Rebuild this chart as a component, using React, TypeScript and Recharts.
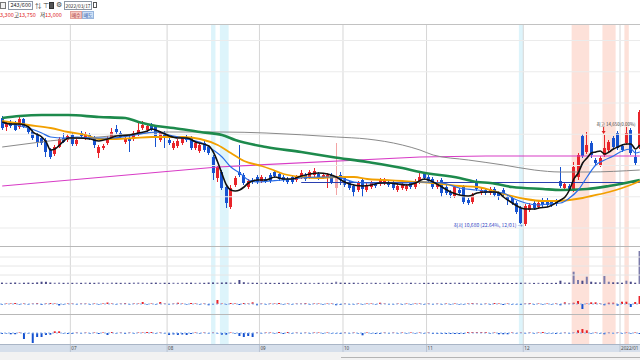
import React from "react";
import {
  ComposedChart, Bar, Line, XAxis, YAxis, ReferenceArea, ReferenceLine, ReferenceDot, Cell,
} from "recharts";

// trading days shown on the chart, per month
const TRADING_DAYS: [string, number[]][] = [
  ["2021/06", [9, 10, 11, 14, 15, 16, 17, 18, 21, 22, 23, 24, 25, 28, 29, 30]],
  ["2021/07", [1, 2, 5, 6, 7, 8, 9, 12, 13, 14, 15, 16, 19, 20, 21, 22, 23, 26, 27, 28, 29, 30]],
  ["2021/08", [2, 3, 4, 5, 6, 9, 10, 11, 12, 13, 17, 18, 19, 20, 23, 24, 25, 26, 27, 30, 31]],
  ["2021/09", [1, 2, 3, 6, 7, 8, 9, 10, 13, 14, 15, 16, 17, 23, 24, 27, 28, 29, 30]],
  ["2021/10", [1, 5, 6, 7, 8, 12, 13, 14, 15, 18, 19, 20, 21, 22, 25, 26, 27, 28, 29]],
  ["2021/11", [1, 2, 3, 4, 5, 8, 9, 10, 11, 12, 15, 16, 17, 18, 19, 22, 23, 24, 25, 26, 29, 30]],
  ["2021/12", [1, 2, 3, 6, 7, 8, 9, 10, 13, 14, 15, 16, 17, 20, 21, 22, 23, 24, 27, 28, 29, 30]],
  ["2022/01", [3, 4, 5, 6, 7]],
];

const MONTH_LABELS: Record<string, string> = {
  "2021/07": "07", "2021/08": "08", "2021/09": "09", "2021/10": "10",
  "2021/11": "11", "2021/12": "12", "2022/01": "2022/01",
};

const OPEN = [
  15000, 14640, 14840, 14800, 14640, 14960, 14600, 14440, 14320, 14200, 14120, 13720, 13560, 13840, 14200, 14120,
  14320, 13960, 14400, 14200, 14320, 14200, 13600, 13800, 14000, 14200, 14560, 14400, 14040, 14200, 14160, 14360, 14600, 14520, 14720, 14640, 14120, 14400,
  14120, 13800, 13880, 14000, 14240, 14200, 13800, 13680, 14000, 13840, 13440, 12600, 12840, 12240, 11440, 12320, 12840, 12720, 12240, 12520, 12640,
  12480, 12560, 12720, 12840, 12760, 12640, 12560, 12640, 12520, 12640, 12720, 12640, 12720, 12760, 12640, 12600, 12720, 12200, 12720,
  12600, 12400, 12280, 12120, 12520, 12120, 12240, 12360, 12360, 12400, 12400, 12400, 12120, 12200, 12160, 12400, 12240, 12440, 12760,
  12640, 12560, 12240, 12520, 12240, 12040, 11880, 12120, 12240, 11720, 11640, 12400, 12000, 12120, 12000, 12160, 12000, 12120, 11840, 11800, 11600, 11400,
  10760, 11320, 11600, 11440, 11720, 11720, 11640, 11680, 12480, 12200, 12280, 12120, 12640, 14280, 13640, 14000, 13320, 13120, 13520, 13720, 14200, 14400,
  13880, 14000, 14520, 13440, 13840,
];
const HIGH = [
  15080, 14880, 14920, 14880, 15040, 15000, 14680, 14520, 14400, 14280, 14200, 13800, 13920, 14240, 14400, 14360,
  14400, 14200, 14480, 14440, 14400, 14280, 13920, 13960, 14280, 14600, 14720, 14480, 14240, 14320, 14480, 14840, 14880, 14760, 14800, 14720, 14480, 14480,
  14200, 14080, 14160, 14280, 14320, 14280, 14080, 14000, 14080, 13920, 13520, 13120, 12920, 12320, 12320, 12680, 13920, 12800, 12560, 12600, 12720,
  12720, 12640, 12800, 12920, 12840, 12720, 12640, 12720, 12720, 12920, 12800, 12920, 13000, 12840, 12800, 12800, 12800, 14000, 12840,
  12680, 12480, 12360, 12480, 12600, 12400, 12480, 12440, 12600, 12600, 12480, 12520, 12400, 12440, 12360, 12480, 12560, 12800, 12840,
  12720, 12640, 12520, 12600, 12320, 12120, 12320, 12200, 12320, 11800, 12000, 12560, 12200, 12200, 12240, 12240, 12080, 12200, 11920, 11880, 11680, 11480,
  11560, 11600, 11680, 11680, 11800, 11800, 11720, 11760, 13040, 12440, 12360, 13240, 13600, 14360, 14440, 14080, 13400, 13480, 14320, 14120, 14280, 14480,
  13960, 14640, 14600, 13720, 15320,
];
const LOW = [
  14520, 14480, 14600, 14480, 14560, 14600, 14360, 14120, 13840, 13920, 13440, 13360, 13480, 13800, 14000, 14040,
  13880, 13880, 14200, 14120, 14120, 13800, 13400, 13720, 13920, 14120, 14360, 14160, 13960, 13640, 14080, 14280, 14520, 14440, 14480, 13840, 14040, 13800,
  13920, 13720, 13800, 13920, 14040, 13720, 13720, 13600, 13640, 13520, 12520, 12440, 12120, 11400, 11360, 12240, 12640, 12320, 12160, 12360, 12360,
  12400, 12400, 12400, 12600, 12480, 12440, 12360, 12360, 12440, 12560, 12480, 12560, 12640, 12520, 12560, 12200, 12360, 11920, 12320,
  12240, 12120, 11840, 12040, 11840, 12040, 12160, 12200, 12280, 12320, 12240, 12120, 12040, 12120, 12080, 12160, 12160, 12360, 12520,
  12400, 12160, 12160, 11840, 11920, 11800, 11800, 11920, 11560, 11520, 11560, 12080, 11920, 11920, 11920, 11840, 11720, 11880, 11520, 11520, 11160, 10760,
  10680, 11240, 11320, 11360, 11440, 11440, 11440, 11480, 12200, 12120, 12080, 12040, 12520, 13400, 13560, 13400, 13080, 13040, 13440, 13640, 13760, 13720,
  13640, 13920, 13520, 13120, 13760,
];
const CLOSE = [
  14600, 14760, 14680, 14520, 14960, 14640, 14440, 14200, 14040, 14000, 13640, 13440, 13840, 14160, 14040, 14280,
  13960, 14120, 14280, 14360, 14200, 13920, 13840, 13880, 14200, 14440, 14440, 14240, 14160, 14080, 14400, 14520, 14720, 14680, 14560, 14200, 14400, 14200,
  14000, 14000, 14080, 14200, 14120, 13800, 14000, 13920, 13720, 13600, 12800, 13040, 12200, 11600, 12200, 12600, 12720, 12400, 12480, 12440, 12440,
  12640, 12480, 12480, 12680, 12560, 12520, 12440, 12440, 12640, 12800, 12560, 12840, 12880, 12600, 12720, 12720, 12440, 12600, 12520,
  12320, 12200, 12040, 12400, 12160, 12320, 12400, 12280, 12520, 12520, 12320, 12200, 12280, 12360, 12280, 12240, 12480, 12640, 12600,
  12480, 12240, 12440, 12000, 12000, 11920, 12240, 12000, 11640, 11600, 11920, 12160, 12120, 12000, 12160, 11920, 11880, 11960, 11720, 11600, 11240, 10800,
  11480, 11520, 11400, 11600, 11520, 11520, 11520, 11560, 12280, 12360, 12160, 13040, 13520, 13480, 13920, 13520, 13200, 13400, 13800, 14040, 13840, 13800,
  13720, 14400, 13600, 13200, 15240,
];
// candles drawn in a pale tone
const FADED = ["2021/09/29"];

const VOLUME = [
  14000, 12000, 13000, 15000, 12000, 13000, 14000, 12000, 16000, 23000, 22000, 15000, 13000, 14000, 12000, 13000,
  12000, 13000, 12000, 14000, 13000, 12000, 15000, 13000, 12000, 14000, 13000, 12000, 13000, 12000, 14000, 15000, 13000, 12000, 13000, 14000, 12000, 13000,
  12000, 13000, 12000, 13000, 12000, 14000, 12000, 13000, 12000, 15000, 16000, 14000, 15000, 17000, 14000, 13000, 40000, 18000, 14000, 13000, 12000,
  12000, 13000, 12000, 11000, 12000, 13000, 12000, 11000, 12000, 13000, 12000, 12000, 11000, 12000, 13000, 12000, 12000, 23000, 14000,
  13000, 12000, 13000, 12000, 11000, 12000, 13000, 12000, 11000, 12000, 13000, 12000, 11000, 12000, 12000, 13000, 12000, 11000, 12000,
  12000, 13000, 12000, 13000, 12000, 12000, 14000, 12000, 13000, 12000, 13000, 12000, 12000, 13000, 12000, 13000, 12000, 12000, 12000, 11000, 12000, 13000,
  14000, 12000, 11000, 12000, 11000, 12000, 11000, 12000,
  33000, 15000, 14000, 123000, 40000, 33000, 73000, 23000, 17000, 17000, 80000, 23000, 17000, 17000, 13000, 33000, 23000, 13000, 330000,
];

// second pane (net buying, agency A)
const NET_A = [
  -400, 400, 400, 1000, -400, 400, -400, 400, 1000, -1000, 400, 1000, 400, -1500, -400, 400,
  400, -400, 400, 400, -400, 400, -400, 400, 1500, 400, -400, 400, 1000, -400, 400, 400, 2000, -400, 400, -400, 2000, 400,
  -400, 400, 1300, 400, -400, 1000, 400, -400, 400, -1300, -400, 4000, 400, -400, 1000, 400, -1000, 1000, 400, 1700, -1300,
  400, -400, 400, 400, 1000, -400, 400, -400, 400, 400, 1000, -400, 400, 400, -400, 400, 400, -1300, -1000,
  400, -400, -400, 400, -400, 400, 400, -400, 1300, 400, -400, -400, 400, -400, 400, -400, 400, 400, -400,
  400, -400, 400, -400, 400, -400, 400, -400, -400, 400, 1000, 400, -400, 400, -400, 1000, 400, -1000, 400, -400, -400, -1000,
  400, 1000, -400, 400, -400, 400, -400, 400,
  -1300, 1700, 400, 1300, 3000, -5000, 400, 1700, 1700, 400, -1300, 1300, 1300, -1700, 2300, 2300, -3000, 2000, 8000,
];

// third pane (net buying, agency B)
const NET_B = [
  -700, -400, -1300, -1300, 400, -6000, -400, -10000, -4000, -4000, -2000, -1700, 1700, 1700, -400, -1000,
  -1000, 400, -400, 400, -400, 400, -1000, 400, -2000, 1000, -400, 400, -1000, 400, -400, 400, 400, 1000, 1000, -400, 400, -400,
  -2000, -1500, -2000, -1500, -2000, -1000, 400, -400, 400, -400, 400, -400, -1700, -1700, 400, -400, -3000, -4000, -3000, -4000, 400,
  -400, 400, 400, -400, 1000, -1000, 1000, -400, 400, -400, 400, -400, 400, 400, -400, 400, -400, -400, -1000,
  400, -400, 400, -400, -2300, 400, -400, -1000, -1000, 400, -400, 400, -400, 400, -400, 400, -400, 400, -400,
  400, -1000, -1000, -1000, -1000, -1000, -1000, -1000, -1000, 1000, 1000, 1000, 1000, 1000, -400, 400, -1300, -1300, -1300, 400, -400, 400,
  -400, 400, -400, 400, 700, -400, -400, -1000,
  -400, 400, -400, 400, 2700, 4000, 2700, -400, 400, -400, -1300, 400, -400, 400, -400, 400, -400, 400, -700,
];

// moving averages: [day index, price]
const MA5: [number, number][] = [
  [0, 14840], [2, 14760], [4, 14760], [6, 14640], [7, 14440], [9, 14240], [10, 14040], [11, 13720], [12, 13760], [14, 14080],
  [15, 14200], [17, 14200], [20, 14160], [22, 14080], [24, 14160], [26, 14280], [29, 14320], [31, 14400], [33, 14480], [34, 14560],
  [36, 14440], [38, 14280], [40, 14200], [42, 14200], [44, 14040], [47, 13880], [48, 13640], [49, 13240], [50, 12760], [51, 12320],
  [52, 12120], [53, 12080], [54, 12120], [55, 12240], [56, 12400], [57, 12480], [58, 12520], [60, 12520], [62, 12640], [64, 12560],
  [66, 12560], [68, 12680], [70, 12760], [72, 12800], [74, 12760], [76, 12640], [77, 12520], [79, 12360], [82, 12280], [84, 12320],
  [86, 12400], [88, 12400], [90, 12360], [92, 12320], [94, 12400], [96, 12560], [98, 12440], [100, 12240], [102, 12040], [104, 11920],
  [106, 11880], [108, 12000], [110, 12040], [112, 12040], [113, 12000], [114, 11840], [116, 11600], [118, 11400], [119, 11360], [121, 11360],
  [122, 11400], [124, 11440], [127, 11720], [128, 11840], [129, 12120], [130, 12560], [131, 12800], [132, 13200], [133, 13400], [134, 13600],
  [135, 13640], [136, 13680], [137, 13560], [138, 13640], [139, 13760], [140, 13840], [141, 13920], [142, 13960], [143, 13960], [144, 13760], [145, 13920],
];
const MA10: [number, number][] = [
  [0, 14800], [6, 14600], [9, 14400], [11, 14240], [14, 14200], [17, 14240], [21, 14200], [25, 14200], [29, 14280], [35, 14440],
  [38, 14320], [43, 14120], [46, 13960], [48, 13720], [50, 13440], [52, 13040], [54, 12800], [56, 12520], [58, 12440], [61, 12480],
  [64, 12520], [68, 12600], [72, 12640], [76, 12640], [80, 12440], [83, 12400], [87, 12400], [91, 12400], [95, 12440], [100, 12400],
  [104, 12200], [108, 12120], [111, 12040], [114, 12000], [116, 11800], [119, 11600], [122, 11520], [124, 11560], [127, 11600], [129, 11800],
  [131, 12120], [133, 12640], [135, 13120], [137, 13320], [139, 13480], [141, 13680], [143, 13760], [144, 13600], [145, 13640],
];
const MA20: [number, number][] = [
  [0, 14880], [6, 14720], [11, 14600], [15, 14440], [19, 14320], [22, 14160], [26, 14160], [30, 14200], [34, 14240], [37, 14240],
  [41, 14240], [45, 14160], [49, 13920], [52, 13600], [55, 13280], [59, 13080], [61, 12960], [64, 12760], [68, 12640], [72, 12600],
  [76, 12640], [80, 12640], [83, 12560], [87, 12520], [91, 12480], [95, 12440], [100, 12360], [104, 12280], [108, 12240], [111, 12120],
  [115, 11920], [119, 11760], [123, 11680], [126, 11680], [129, 11720], [132, 11800], [134, 11880], [138, 12040], [141, 12200], [144, 12400], [145, 12480],
];
const MA60: [number, number][] = [
  [0, 15000], [4, 15080], [9, 15120], [15, 15120], [22, 15040], [28, 15000], [31, 14840], [35, 14680], [39, 14600], [45, 14440],
  [50, 14320], [53, 14120], [60, 13840], [68, 13640], [75, 13440], [83, 13240], [91, 13000], [95, 12840], [104, 12600], [108, 12440],
  [111, 12400], [116, 12240], [123, 12160], [127, 12120], [133, 12160], [138, 12280], [145, 12520],
];
const MA120: [number, number][] = [
  [0, 13840], [7, 14000], [15, 14160], [22, 14240], [30, 14360], [38, 14440], [45, 14440], [50, 14440], [60, 14400], [76, 14240],
  [83, 14160], [91, 13920], [95, 13720], [98, 13520], [106, 13320], [114, 13120], [121, 12920], [127, 12840], [133, 12840], [145, 12920],
];
const MA240: [number, number][] = [[0, 12280], [49, 13040], [95, 13440], [110, 13480], [145, 13480]];

const SUPPORT = { from: "2021/09/14", to: "2022/01/07", price: 12420 };
const LOW_MARK = { date: "2021/12/01", price: 10680, text: "최저 10,680 (22.64%, 12/01) →" };
const HIGH_MARK = { date: "2021/12/27", text: "최고 14,650(0.00%)" };

const BANDS: [string, string, "c" | "p"][] = [
  ["2021/08/17", "2021/08/17", "c"],
  ["2021/08/19", "2021/08/20", "c"],
  ["2021/11/30", "2021/11/30", "c"],
  ["2021/12/16", "2021/12/21", "p"],
  ["2021/12/27", "2021/12/29", "p"],
  ["2022/01/04", "2022/01/04", "p"],
];

const PRICE_GRID = [10600, 11850, 13100, 14350, 15600, 16850, 18100];
const VOL_GRID = [90000, 180000, 270000];

const DATES = TRADING_DAYS.flatMap(([m, days]) => days.map((d) => `${m}/${String(d).padStart(2, "0")}`));
const MONTH_STARTS = DATES.filter((d, i) => i > 0 && d.slice(0, 7) !== DATES[i - 1].slice(0, 7));

const rows: Record<string, any>[] = DATES.map((d, i) => ({
  d, o: OPEN[i], h: HIGH[i], l: LOW[i], c: CLOSE[i], vol: VOLUME[i], a: NET_A[i], b: NET_B[i],
  faded: FADED.includes(d),
}));
const put = (key: string, pts: [number, number][]) => pts.forEach(([i, v]) => { rows[i][key] = v; });
put("ma5", MA5);
put("ma10", MA10);
put("ma20", MA20);
put("ma60", MA60);
put("ma120", MA120);
put("ma240", MA240);
rows[DATES.indexOf(SUPPORT.from)].sup = SUPPORT.price;
rows[DATES.indexOf(SUPPORT.to)].sup = SUPPORT.price;

const W = 642;
const HALF = W / DATES.length / 2;
const RED = "#e8242a";
const BLUE = "#1652d0";
const CYAN = "#ddf4fb";
const PINK = "#fde1d9";
const KR = '"Noto Sans CJK KR", "Noto Sans", sans-serif';
const M = { top: 0, right: 0, bottom: 0, left: 0 };

function Candle(props: any) {
  const { x, y, width, height, payload } = props;
  if (!payload) return null;
  const { o, h, l, c } = payload;
  const top = Math.min(y, y + height);
  const bottom = Math.max(y, y + height);
  const k = h === l ? 0 : (bottom - top) / (h - l);
  const bTop = top + (h - Math.max(o, c)) * k;
  const bBot = top + (h - Math.min(o, c)) * k;
  const col = payload.faded ? "#f3a4a4" : c >= o ? RED : BLUE;
  const cx = Math.floor(x + width / 2) + 0.5;
  return (
    <g>
      <line x1={cx} x2={cx} y1={top} y2={bottom} stroke={col} strokeWidth={1} />
      <rect x={cx - 1.5} y={bTop} width={3} height={Math.max(1, bBot - bTop)} fill={col} />
    </g>
  );
}

const backdrop = () => [
  ...BANDS.map(([a, b, t], i) => (
    <ReferenceArea key={"band" + i} x1={a} x2={b} fill={t === "c" ? CYAN : PINK} fillOpacity={1} stroke="none" />
  )),
  ...MONTH_STARTS.map((d) => (
    <ReferenceLine key={"m" + d} x={d} position="start" stroke="#d6d6d6" />
  )),
];

function LowLabel(p: any) {
  return (
    <text x={p.cx - 3} y={p.cy + 0.5} textAnchor="end" fontSize={5} fill="#3446c4" fontFamily={KR}>
      {LOW_MARK.text}
    </text>
  );
}

function HighLabel(p: any) {
  return (
    <g>
      <text x={p.cx - 8} y={p.cy - 9} fontSize={4.5} fill="#444" fontFamily={KR}>{HIGH_MARK.text}</text>
      <line x1={p.cx - 1} x2={p.cx - 1} y1={p.cy - 8} y2={p.cy - 3} stroke="#e02020" />
      <path d={`M${p.cx - 3},${p.cy - 4} L${p.cx + 1},${p.cy - 4} L${p.cx - 1},${p.cy - 1} Z`} fill="#e02020" />
    </g>
  );
}

function MonthTick({ x, payload }: any) {
  const left = x - HALF;
  return (
    <g>
      <line x1={left} x2={left} y1={30} y2={38} stroke="#b9c4d3" />
      <text x={left + 1} y={35.5} fontSize={4.6} fill="#4a4a4a" fontFamily='"Noto Sans", sans-serif'>
        {MONTH_LABELS[String(payload.value).slice(0, 7)]}
      </text>
    </g>
  );
}

function PriceChart() {
  return (
    <ComposedChart width={W} height={222} data={rows} margin={M} barCategoryGap={0} barGap={0}>
      <XAxis dataKey="d" hide />
      <YAxis hide domain={[9880, 18760]} />
      {backdrop()}
      {PRICE_GRID.map((v) => <ReferenceLine key={v} y={v} stroke="#ebebeb" />)}
      <Bar dataKey={(r: any) => [r.l, r.h]} shape={Candle} isAnimationActive={false} />
      <Line dataKey="ma240" type="linear" stroke="#d83cc6" strokeWidth={1.2} dot={false} connectNulls isAnimationActive={false} />
      <Line dataKey="ma120" type="monotone" stroke="#8a8a8a" strokeWidth={1} dot={false} connectNulls isAnimationActive={false} />
      <Line dataKey="sup" type="linear" stroke="#2a3fb0" strokeWidth={1.2} dot={false} connectNulls isAnimationActive={false} />
      <Line dataKey="ma60" type="monotone" stroke="#1d8a4c" strokeWidth={2.6} dot={false} connectNulls isAnimationActive={false} />
      <Line dataKey="ma20" type="monotone" stroke="#f2a000" strokeWidth={1.8} dot={false} connectNulls isAnimationActive={false} />
      <Line dataKey="ma10" type="monotone" stroke="#2a6ee8" strokeWidth={1.2} dot={false} connectNulls isAnimationActive={false} />
      <Line dataKey="ma5" type="monotone" stroke="#111111" strokeWidth={1.6} dot={false} connectNulls isAnimationActive={false} />
      <ReferenceDot x={LOW_MARK.date} y={LOW_MARK.price} r={0} shape={LowLabel} />
      <ReferenceDot x={HIGH_MARK.date} y={HIGH[DATES.indexOf(HIGH_MARK.date)]} r={0} shape={HighLabel} />
    </ComposedChart>
  );
}

function VolumeChart() {
  return (
    <ComposedChart width={W} height={38} data={rows} margin={M} barCategoryGap="22%">
      <XAxis dataKey="d" hide />
      <YAxis hide domain={[0, 380000]} />
      {backdrop()}
      {VOL_GRID.map((v) => <ReferenceLine key={v} y={v} stroke="#e6e6e6" />)}
      <Bar dataKey="vol" minPointSize={1} isAnimationActive={false}>
        {rows.map((r, i) => <Cell key={i} fill={r.c >= r.o ? "#7c7cab" : "#4b4b88"} />)}
      </Bar>
    </ComposedChart>
  );
}

const netColor = (v: number) => {
  if (Math.abs(v) <= 500) return v >= 0 ? "#f08c8c" : "#6f9ce6";
  return v >= 0 ? RED : BLUE;
};

function NetChart({ field, domain, axis }: { field: string; domain: [number, number]; axis?: boolean }) {
  return (
    <ComposedChart width={W} height={axis ? 38 : 30} data={rows} margin={M} barCategoryGap="22%">
      <XAxis
        dataKey="d"
        hide={!axis}
        ticks={MONTH_STARTS}
        interval={0}
        height={8}
        axisLine={false}
        tickLine={false}
        tick={MonthTick}
      />
      <YAxis hide domain={domain} />
      {backdrop()}
      <ReferenceLine y={0} stroke="#8db2ea" strokeDasharray="2 2" />
      <Bar dataKey={field} minPointSize={1} isAnimationActive={false}>
        {rows.map((r, i) => <Cell key={i} fill={netColor(r[field])} />)}
      </Bar>
    </ComposedChart>
  );
}

const txt = (left: number, top: number, s: string, color = "#222", size = 5.5): React.ReactNode => (
  <div style={{ position: "absolute", left, top, fontSize: size, lineHeight: "7px", color, whiteSpace: "nowrap" }}>{s}</div>
);

function Toolbar() {
  const box = (left: number, top: number, w: number, h: number, extra: React.CSSProperties = {}) => ({
    position: "absolute" as const, left, top, width: w, height: h, boxSizing: "border-box" as const,
    border: "1px solid #8c96a3", background: "#fff", ...extra,
  });
  return (
    <div style={{ position: "absolute", left: 0, top: 0, width: 640, height: 24, fontFamily: KR }}>
      <div style={box(0, 2, 6, 7, { background: "#f2f2f2", borderColor: "#777" })} />
      <div style={{ ...box(8, 1, 25, 9), fontSize: 5.5, textAlign: "right", lineHeight: "7px", paddingRight: 1, color: "#222" }}>243/600</div>
      {txt(35, 1.5, "⇅", "#333", 6.5)}
      {txt(43, 1.5, "⊤", "#333", 6.5)}
      <div style={box(49, 2, 5, 7, { borderColor: "#333", background: "#555" })} />
      {txt(56, 1, "⚙", "#444", 7)}
      <div style={{ ...box(64, 1, 28, 9), fontSize: 4.8, lineHeight: "7px", textAlign: "center", color: "#222", whiteSpace: "nowrap", overflow: "visible" }}>2022/03/17</div>
      <div style={box(93, 2, 4, 6, { borderColor: "#555" })} />
      {txt(0, 12, "3,300", "#e02020")}
      {txt(14, 12, "고")}
      {txt(19, 12, "13,750", "#e02020")}
      {txt(40, 12, "저")}
      {txt(45, 12, "13,000", "#e02020")}
      <div style={{ ...box(70, 11, 12, 8, { background: "#f6c9c4", borderColor: "#e3a19a" }), fontSize: 5, lineHeight: "6px", textAlign: "center", color: "#a8342c" }}>매수</div>
      <div style={{ ...box(82, 11, 12, 8, { background: "#cfe0f6", borderColor: "#98b5dc" }), fontSize: 5, lineHeight: "6px", textAlign: "center", color: "#2452a0" }}>매도</div>
    </div>
  );
}

const hline = (top: number, color: string, left = 0, width = 640) => (
  <div style={{ position: "absolute", left, top, width, height: 1, background: color }} />
);

export default function App() {
  return (
    <div style={{ position: "absolute", left: 0, top: 0, width: 640, height: 360, overflow: "hidden", background: "#fff", fontFamily: KR }}>
      <Toolbar />
      <div style={{ position: "absolute", left: 0, top: 344, width: 640, height: 8, background: "#d6dfeb" }} />
      <div style={{ position: "absolute", left: 0, top: 352, width: 640, height: 8, background: "#f2f2f2" }} />
      <div style={{ position: "absolute", left: 0, top: 24 }}><PriceChart /></div>
      <div style={{ position: "absolute", left: 0, top: 246 }}><VolumeChart /></div>
      <div style={{ position: "absolute", left: 0, top: 284 }}><NetChart field="a" domain={[-10000, 20000]} /></div>
      <div style={{ position: "absolute", left: 0, top: 314 }}><NetChart field="b" domain={[-11000, 19000]} axis /></div>
      {hline(24, "#c2c2c2")}
      {hline(246, "#b8b8b8")}
      {hline(314, "#b8b8b8")}
      {hline(344, "#a9b5c6")}
      {hline(357, "#b4b4b4", 341, 299)}
    </div>
  );
}
